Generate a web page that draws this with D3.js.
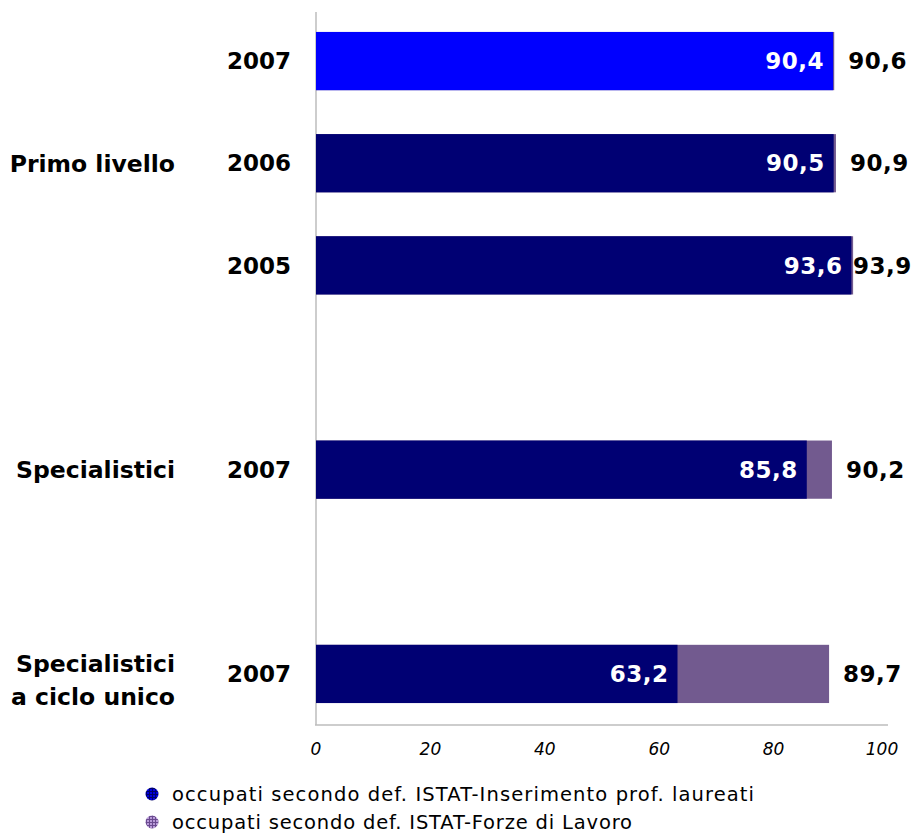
<!DOCTYPE html>
<html>
<head>
<meta charset="utf-8">
<script src="https://cdn.jsdelivr.net/npm/d3@7"></script>
<style>
  body { margin: 0; background: #fff; }
  text { font-family: "DejaVu Sans", Verdana, sans-serif; }
</style>
</head>
<body>
<script>
// data
var slots = ["pl2007", "pl2006", "pl2005", "gap1", "sp2007", "gap2", "scu2007"];
var rows = ["pl2007", "pl2006", "pl2005", "sp2007", "scu2007"];
var years = ["2007", "2006", "2005", "2007", "2007"];
var inserimento = [90.4, 90.5, 93.6, 85.8, 63.2];
var forzeLavoro = [90.6, 90.9, 93.9, 90.2, 89.7];
var groups = [
  { slot: "pl2006", lines: ["Primo livello"] },
  { slot: "sp2007", lines: ["Specialistici"] },
  { slot: "scu2007", lines: ["Specialistici", "a ciclo unico"] }
];
var ticks = [0, 20, 40, 60, 80, 100];
var legendLabels = [
  "occupati secondo def. ISTAT-Inserimento prof. laureati",
  "occupati secondo def. ISTAT-Forze di Lavoro"
];
var legendWidths = [582, 460];

var W = 914, H = 836;
var navy = "#000073", bright = "#0000ff", purple = "#725a8f";

var svg = d3.select("body").append("svg")
  .attr("width", W)
  .attr("height", H);

// patterns for legend markers
var defs = svg.append("defs");
function gridPattern(id, fill, line) {
  var p = defs.append("pattern")
    .attr("id", id)
    .attr("width", 3).attr("height", 3)
    .attr("patternUnits", "userSpaceOnUse");
  p.append("rect").attr("width", 3).attr("height", 3).attr("fill", fill);
  p.append("path").attr("d", "M0,0.5H3M0.5,0V3").attr("stroke", line).attr("stroke-width", 1);
}
gridPattern("gridBlue", "#0000e0", "#000066");
gridPattern("gridPurple", "#b89ad8", "#6a4a8f");

var x = d3.scaleLinear().domain([0, 100]).range([316, 888]);
var y = d3.scaleBand().domain(slots).range([10, 725]).paddingInner(0.43).paddingOuter(0.215);

// axis lines
svg.append("line")
  .attr("x1", x(0)).attr("x2", x(0))
  .attr("y1", 12).attr("y2", 725)
  .attr("stroke", "#bdbdbd").attr("stroke-width", 1.5);
svg.append("line")
  .attr("x1", x(0) - 1).attr("x2", x(100))
  .attr("y1", 725).attr("y2", 725)
  .attr("stroke", "#bdbdbd").attr("stroke-width", 1.5);

// tick labels
svg.selectAll(".tick-label")
  .data(ticks)
  .enter()
  .append("text")
  .attr("class", "tick-label")
  .attr("x", function(d) { return x(d) - (d === 100 ? 6 : 0); })
  .attr("y", 755)
  .attr("text-anchor", "middle")
  .attr("font-size", 17)
  .attr("font-style", "italic")
  .text(function(d) { return d; });

// bars: purple total behind, blue/navy segment on top
svg.selectAll(".bar-total")
  .data(rows)
  .enter()
  .append("rect")
  .attr("class", "bar-total")
  .attr("x", x(0))
  .attr("y", function(d) { return y(d); })
  .attr("width", function(d, i) { return x(forzeLavoro[i]) - x(0); })
  .attr("height", y.bandwidth())
  .attr("fill", purple);

svg.selectAll(".bar-ins")
  .data(rows)
  .enter()
  .append("rect")
  .attr("class", "bar-ins")
  .attr("x", x(0))
  .attr("y", function(d) { return y(d); })
  .attr("width", function(d, i) { return x(inserimento[i]) - x(0); })
  .attr("height", y.bandwidth())
  .attr("fill", function(d, i) { return i === 0 ? bright : navy; });

function fmt(v) { return v.toFixed(1).replace(".", ","); }

// value labels inside
svg.selectAll(".lab-in")
  .data(rows)
  .enter()
  .append("text")
  .attr("class", "lab-in")
  .attr("x", function(d, i) { return x(inserimento[i]) - 9; })
  .attr("y", function(d) { return y(d) + y.bandwidth() / 2; })
  .attr("dy", "0.36em")
  .attr("text-anchor", "end")
  .attr("fill", "#fff")
  .attr("font-size", 23)
  .attr("font-weight", "bold")
  .attr("letter-spacing", 0.5)
  .text(function(d, i) { return fmt(inserimento[i]); });

// value labels outside
svg.selectAll(".lab-out")
  .data(rows)
  .enter()
  .append("text")
  .attr("class", "lab-out")
  .attr("x", function(d, i) { return Math.min(x(forzeLavoro[i]) + 14, 853); })
  .attr("y", function(d) { return y(d) + y.bandwidth() / 2; })
  .attr("dy", "0.36em")
  .attr("fill", "#000")
  .attr("font-size", 23)
  .attr("font-weight", "bold")
  .attr("letter-spacing", 0.5)
  .text(function(d, i) { return fmt(forzeLavoro[i]); });

// year labels
svg.selectAll(".year")
  .data(rows)
  .enter()
  .append("text")
  .attr("class", "year")
  .attr("x", 291)
  .attr("y", function(d) { return y(d) + y.bandwidth() / 2; })
  .attr("dy", "0.36em")
  .attr("text-anchor", "end")
  .attr("font-size", 23)
  .attr("font-weight", "bold")
  .text(function(d, i) { return years[i]; });

// group labels
groups.forEach(function(g) {
  var cy = y(g.slot) + y.bandwidth() / 2;
  var n = g.lines.length;
  g.lines.forEach(function(line, k) {
    svg.append("text")
      .attr("x", 175)
      .attr("y", cy + (k - (n - 1) / 2) * 33 + (n > 1 ? 6 : 0))
      .attr("dy", "0.36em")
      .attr("text-anchor", "end")
      .attr("font-size", 23.5)
      .attr("font-weight", "bold")
      .text(line);
  });
});

// legend
var legend = svg.selectAll(".legend")
  .data(legendLabels)
  .enter()
  .append("g")
  .attr("class", "legend")
  .attr("transform", function(d, i) { return "translate(152," + (794 + i * 28) + ")"; });

legend.append("circle")
  .attr("r", 6.5)
  .attr("fill", function(d, i) { return i === 0 ? "url(#gridBlue)" : "url(#gridPurple)"; });

legend.append("text")
  .attr("x", 20)
  .attr("dy", "0.36em")
  .attr("font-size", 19.5)
  .attr("textLength", function(d, i) { return legendWidths[i]; })
  .attr("lengthAdjust", "spacing")
  .text(function(d) { return d; });
</script>
</body>
</html>
